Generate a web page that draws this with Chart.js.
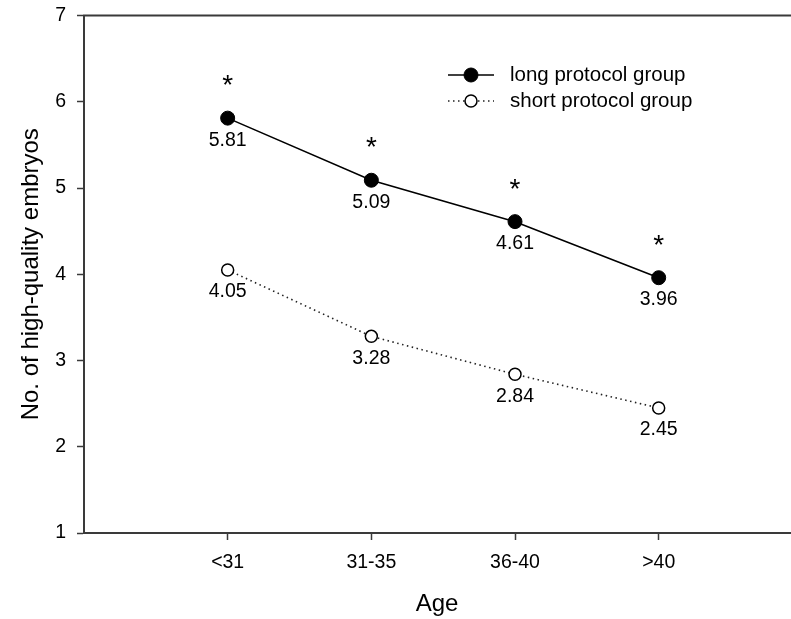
<!DOCTYPE html>
<html>
<head>
<meta charset="utf-8">
<script src="https://cdn.jsdelivr.net/npm/chart.js@4.4.0/dist/chart.umd.min.js"></script>
<style>
html,body{margin:0;padding:0;background:#fff;overflow:hidden;}
canvas{display:block;}
</style>
</head>
<body>
<canvas id="c" width="791" height="619"></canvas>
<script>
// ---- data ----
const categories = ['<31', '31-35', '36-40', '>40'];
const longProtocol = [5.81, 5.09, 4.61, 3.96];
const shortProtocol = [4.05, 3.28, 2.84, 2.45];
const longSignificance = ['*', '*', '*', '*'];
const seriesNames = ['long protocol group', 'short protocol group'];
const yTicks = [1, 2, 3, 4, 5, 6, 7];

const FONT = '"Liberation Sans", Arial, Helvetica, sans-serif';
const AXIS = '#3a3a3a';

const toPoints = arr => arr.map((v, i) => ({x: i + 1, y: v}));

const overlay = {
  id: 'overlay',
  afterDatasetsDraw(chart) {
    const ctx = chart.ctx;
    const a = chart.chartArea;
    ctx.save();
    // top frame line
    ctx.strokeStyle = AXIS;
    ctx.lineWidth = 2;
    ctx.beginPath();
    ctx.moveTo(a.left - 1, a.top);
    ctx.lineTo(chart.width, a.top);
    ctx.stroke();

    // value labels
    ctx.fillStyle = '#000';
    ctx.font = '19.5px ' + FONT;
    ctx.textAlign = 'center';
    ctx.textBaseline = 'middle';
    chart.data.datasets.forEach((ds, di) => {
      const meta = chart.getDatasetMeta(di);
      meta.data.forEach((pt, i) => {
        ctx.fillText(ds.data[i].y.toFixed(2), pt.x, pt.y + 22);
      });
    });
    // significance asterisks
    ctx.font = '28px ' + FONT;
    ctx.textBaseline = 'alphabetic';
    const meta0 = chart.getDatasetMeta(0);
    meta0.data.forEach((pt, i) => {
      ctx.fillText(longSignificance[i], pt.x, pt.y - 40 + 16);
    });

    // legend
    const rows = [75, 101];
    chart.data.datasets.forEach((ds, di) => {
      const y = rows[di];
      ctx.strokeStyle = ds.borderColor;
      ctx.lineWidth = ds.borderWidth;
      ctx.setLineDash(ds.borderDash || []);
      ctx.beginPath();
      ctx.moveTo(448, y);
      ctx.lineTo(494, y);
      ctx.stroke();
      ctx.setLineDash([]);
      ctx.beginPath();
      ctx.arc(471, y, ds.pointRadius, 0, Math.PI * 2);
      ctx.fillStyle = ds.pointBackgroundColor;
      ctx.fill();
      ctx.lineWidth = ds.pointBorderWidth;
      ctx.strokeStyle = ds.pointBorderColor;
      ctx.stroke();
      ctx.fillStyle = '#000';
      ctx.font = '20.5px ' + FONT;
      ctx.textAlign = 'left';
      ctx.textBaseline = 'middle';
      ctx.fillText(ds.label, 510, y);
    });
    ctx.restore();
  }
};

new Chart(document.getElementById('c'), {
  type: 'line',
  data: {
    datasets: [
      {
        label: seriesNames[0],
        data: toPoints(longProtocol),
        borderColor: '#000',
        borderWidth: 1.6,
        pointRadius: 7,
        pointBackgroundColor: '#000',
        pointBorderColor: '#000',
        pointBorderWidth: 1,
        tension: 0
      },
      {
        label: seriesNames[1],
        data: toPoints(shortProtocol),
        borderColor: '#222',
        borderWidth: 1.6,
        borderDash: [1.5, 3.5],
        pointRadius: 6,
        pointBackgroundColor: '#fff',
        pointBorderColor: '#000',
        pointBorderWidth: 1.5,
        tension: 0
      }
    ]
  },
  options: {
    responsive: false,
    animation: false,
    events: [],
    layout: {autoPadding: false, padding: {top: 15.5, right: 1, left: 0, bottom: 0}},
    plugins: {legend: {display: false}, tooltip: {enabled: false}},
    scales: {
      x: {
        type: 'linear',
        min: 0,
        max: 4.914,
        afterBuildTicks: s => { s.ticks = categories.map((c, i) => ({value: i + 1})); },
        afterFit: s => { s.height = 86; s.paddingLeft = 0; s.paddingRight = 0; },
        ticks: {
          callback: v => categories[v - 1],
          color: '#000',
          font: {family: FONT, size: 19.5},
          padding: 11,
          maxRotation: 0
        },
        grid: {drawOnChartArea: false, drawTicks: true, tickLength: 7, tickColor: AXIS, tickWidth: 1.5},
        border: {display: true, color: AXIS, width: 2},
        title: {display: true, text: 'Age', color: '#000', font: {family: FONT, size: 24}, padding: {bottom: 0}}
      },
      y: {
        min: 1,
        max: 7,
        afterBuildTicks: s => { s.ticks = yTicks.map(v => ({value: v})); },
        afterFit: s => { s.width = 84; s.paddingTop = 0; s.paddingBottom = 0; },
        ticks: {
          color: '#000',
          font: {family: FONT, size: 19.5},
          padding: 11
        },
        grid: {drawOnChartArea: false, drawTicks: true, tickLength: 7, tickColor: AXIS, tickWidth: 1.5},
        border: {display: true, color: AXIS, width: 2},
        title: {display: true, text: 'No. of high-quality embryos', color: '#000', font: {family: FONT, size: 24}, padding: {top: 17}}
      }
    }
  },
  plugins: [overlay]
});
</script>
</body>
</html>
